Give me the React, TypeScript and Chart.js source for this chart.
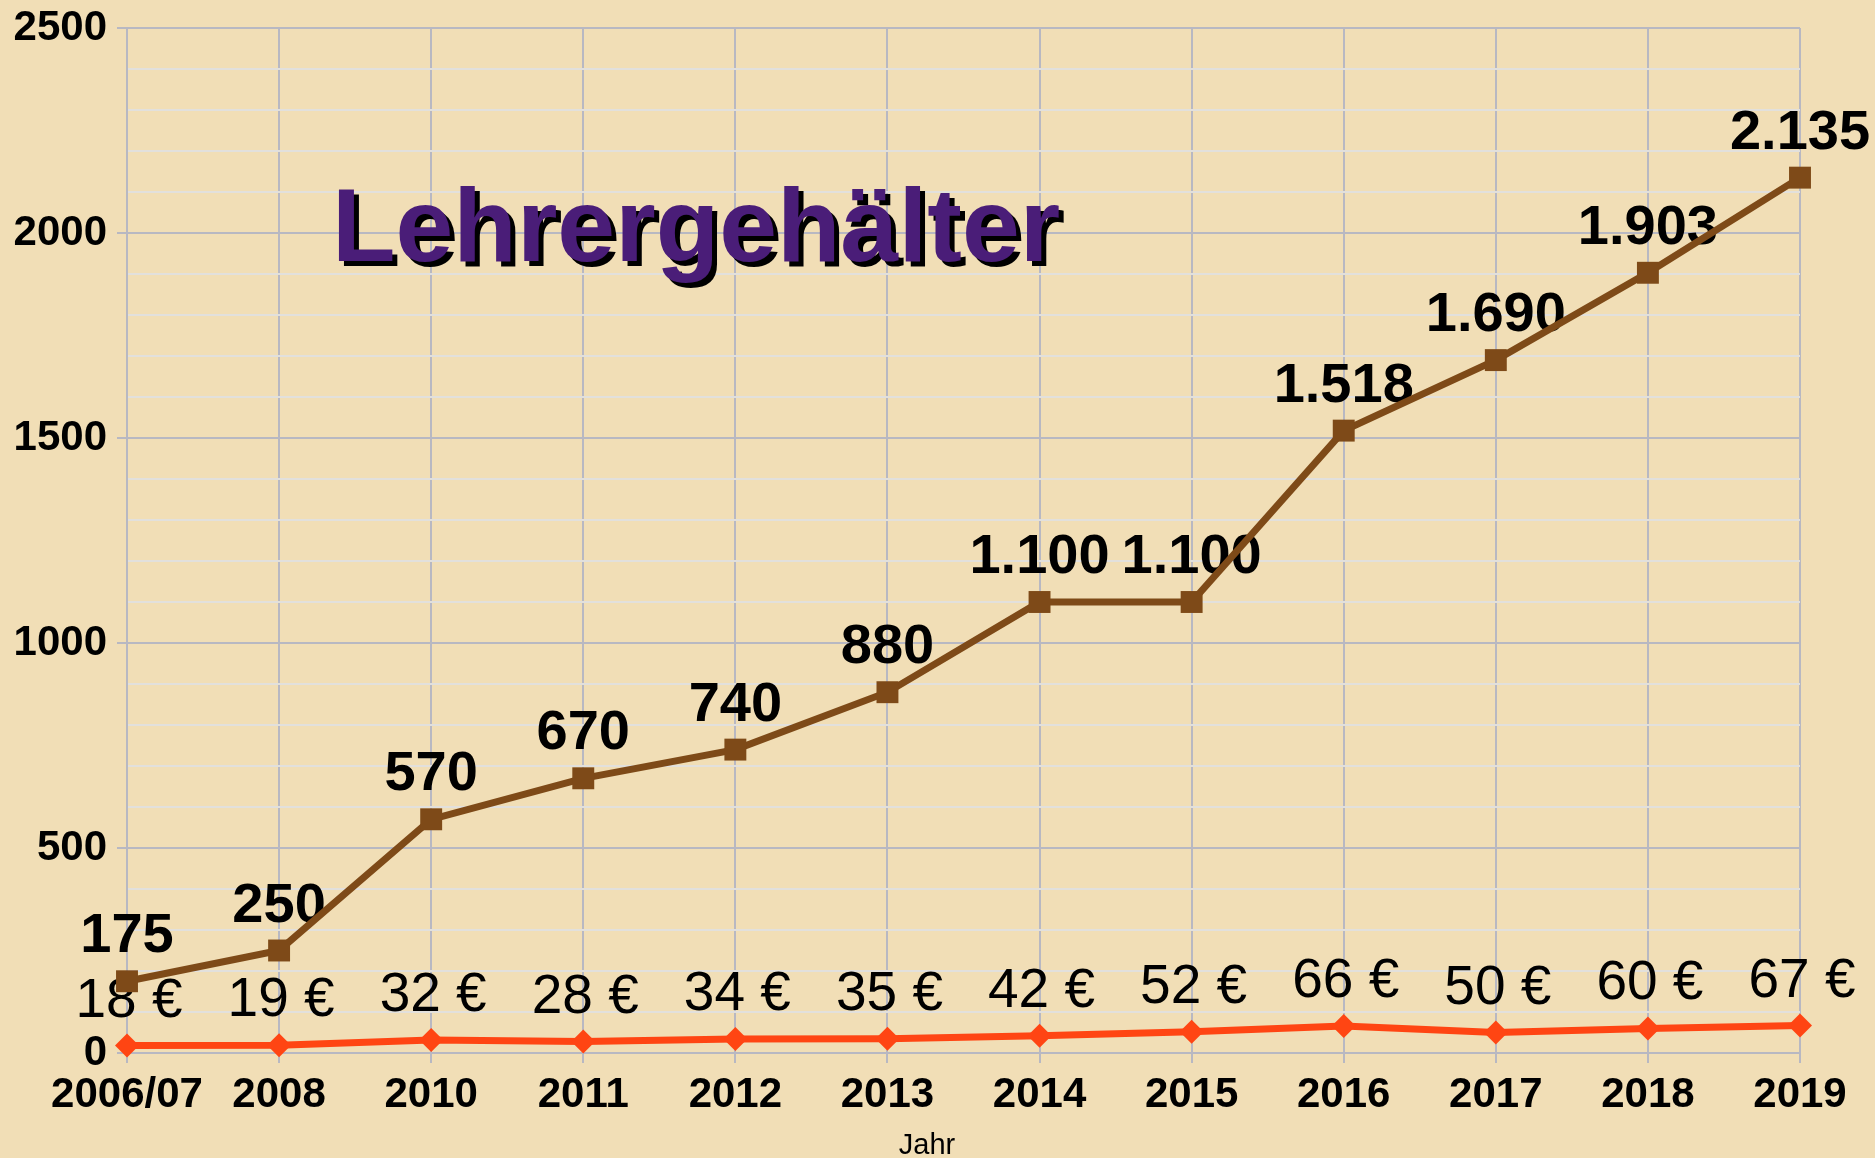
import React, { useEffect, useRef } from "react";
import { Chart, registerables } from "chart.js";

Chart.register(...registerables);

const years = ["2006/07", "2008", "2010", "2011", "2012", "2013", "2014", "2015", "2016", "2017", "2018", "2019"];
const salaries = [175, 250, 570, 670, 740, 880, 1100, 1100, 1518, 1690, 1903, 2135];
const hourly = [18, 19, 32, 28, 34, 35, 42, 52, 66, 50, 60, 67];
const titleText = "Lehrergehälter";
const axisTitle = "Jahr";

const FONT = "'Liberation Sans', Arial, Helvetica, sans-serif";
const MAJOR = "#B8B8C2";
const MINOR = "#E2E0DC";
const BROWN = "#7E4A18";
const ORANGE = "#FF4513";
const BG = "#F1DEB6";

function fmtDE(v: number): string {
  const s = String(Math.round(v));
  return s.replace(/\B(?=(\d{3})+(?!\d))/g, ".");
}

const labelPlugin = {
  id: "labelPlugin",
  beforeDatasetsDraw(chart: any) {
    const ctx = chart.ctx;
    ctx.save();
    // title
    ctx.font = `bold 104px ${FONT}`;
    ctx.textAlign = "left";
    ctx.textBaseline = "alphabetic";
    ctx.fillStyle = "#000";
    ctx.fillText(titleText, 337, 266);
    ctx.fillStyle = "#4A1D78";
    ctx.fillText(titleText, 332, 261);

    // data labels
    chart.data.datasets.forEach((ds: any, di: number) => {
      const meta = chart.getDatasetMeta(di);
      meta.data.forEach((pt: any, i: number) => {
        const v = ds.data[i];
        ctx.fillStyle = "#000";
        ctx.textAlign = "center";
        ctx.textBaseline = "alphabetic";
        if (di === 0) {
          ctx.font = `bold 56px ${FONT}`;
          ctx.fillText(fmtDE(v), pt.x, pt.y - 29);
        } else {
          ctx.font = `55px ${FONT}`;
          ctx.fillText(`${v} €`, pt.x + 2, pt.y - 29);
        }
      });
    });
    ctx.restore();
  },
  afterDraw(chart: any) {
    const ctx = chart.ctx;
    ctx.save();
    ctx.font = `29px ${FONT}`;
    ctx.fillStyle = "#000";
    ctx.textAlign = "center";
    ctx.textBaseline = "alphabetic";
    ctx.fillText(axisTitle, 927, 1154);
    ctx.restore();
  },
};

export default function App() {
  const ref = useRef<HTMLCanvasElement | null>(null);

  useEffect(() => {
    document.body.style.margin = "0";
    document.body.style.overflow = "hidden";
    document.body.style.background = BG;
    const canvas = ref.current;
    if (!canvas) return;
    Chart.defaults.font.family = FONT;
    const chart = new Chart(canvas, {
      type: "line",
      data: {
        labels: years,
        datasets: [
          {
            label: "Gehalt",
            data: salaries,
            borderColor: BROWN,
            backgroundColor: BROWN,
            borderWidth: 7,
            pointStyle: "rect",
            pointRadius: 15.5,
            pointBorderWidth: 0,
            pointBackgroundColor: BROWN,
            tension: 0,
            clip: false,
          },
          {
            label: "Stunde",
            data: hourly,
            borderColor: ORANGE,
            backgroundColor: ORANGE,
            borderWidth: 7,
            pointStyle: "rectRot",
            pointRadius: 12,
            pointBorderWidth: 0,
            pointBackgroundColor: ORANGE,
            tension: 0,
            clip: false,
          },
        ],
      },
      options: {
        responsive: false,
        animation: false,
        devicePixelRatio: 1,
        layout: { padding: { top: 28, right: 75, left: 0, bottom: 0 } },
        plugins: {
          legend: { display: false },
          tooltip: { enabled: false },
          title: { display: false },
        },
        scales: {
          x: {
            afterFit: (s: any) => {
              s.height = 105;
            },
            ticks: {
              color: "#000",
              font: { size: 42, weight: "bold", family: FONT },
              padding: 7,
              autoSkip: false,
              maxRotation: 0,
              minRotation: 0,
            },
            grid: { color: MAJOR, lineWidth: 2, tickLength: 10, tickColor: MAJOR },
            border: { color: MAJOR, width: 2 },
          },
          y: {
            min: 0,
            max: 2500,
            afterFit: (s: any) => {
              s.width = 127;
            },
            ticks: {
              stepSize: 100,
              maxTicksLimit: 40,
              autoSkip: false,
              color: "#000",
              font: { size: 42, weight: "bold", family: FONT, lineHeight: 0.8 },
              padding: 10,
              callback: (v: any) => (Number(v) % 500 === 0 ? String(v) : ""),
            },
            grid: {
              color: (c: any) => (c.tick && c.tick.value % 500 === 0 ? MAJOR : MINOR),
              tickColor: (c: any) => (c.tick && c.tick.value % 500 === 0 ? MAJOR : "rgba(0,0,0,0)"),
              lineWidth: 2,
              tickLength: 10,
            },
            border: { color: MAJOR, width: 2 },
          },
        },
      },
      plugins: [labelPlugin],
    } as any);
    return () => chart.destroy();
  }, []);

  return (
    <div style={{ width: 1875, height: 1158, background: BG, position: "relative" }}>
      <canvas ref={ref} width={1875} height={1158} style={{ display: "block" }} />
    </div>
  );
}
